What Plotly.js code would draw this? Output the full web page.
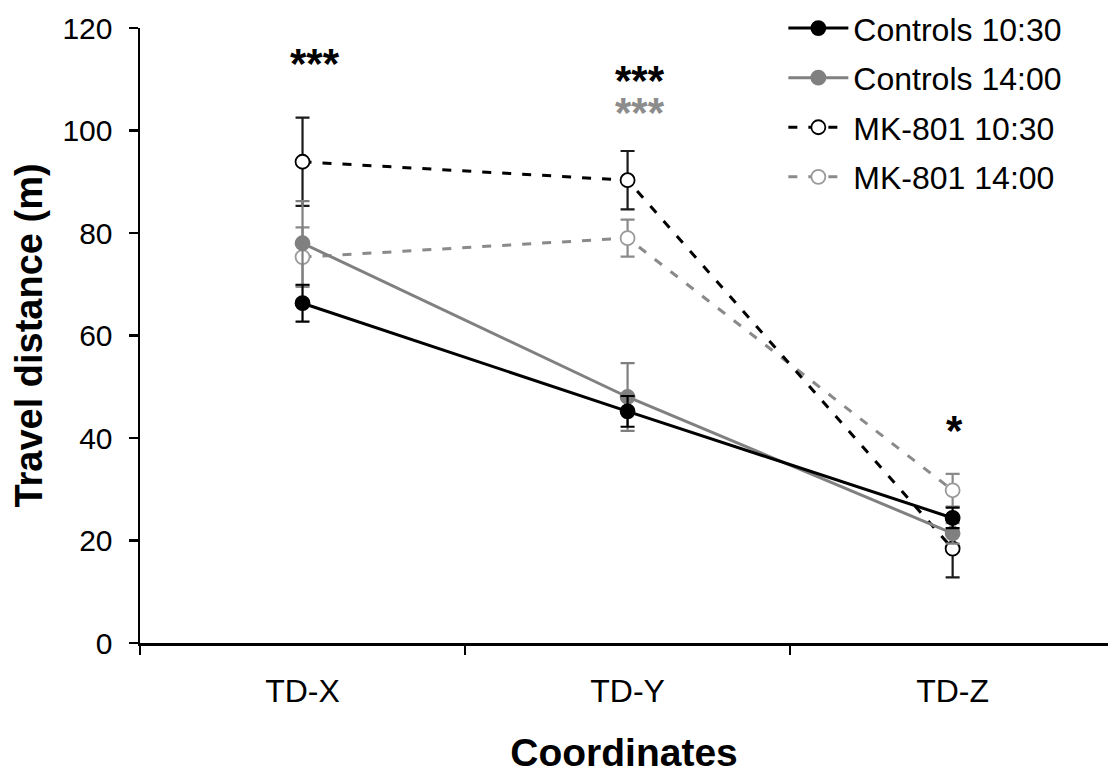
<!DOCTYPE html>
<html>
<head>
<meta charset="utf-8">
<script src="https://cdn.plot.ly/plotly-3.0.1.min.js"></script>
<style>html,body{margin:0;padding:0;background:#fff;}#chart{width:1108px;height:774px;}</style>
</head>
<body>
<div id="chart"></div>
<script>
const categories = ["TD-X", "TD-Y", "TD-Z"];
const seriesNames = ["Controls 10:30", "Controls 14:00", "MK-801 10:30", "MK-801 14:00"];
const controls1030 = [66.3, 45.2, 24.4];
const controls1030Err = [3.6, 3.0, 2.0];
const controls1400 = [78.0, 48.0, 21.4];
const controls1400Err = [8.2, 6.6, 2.0];
const mk1030 = [93.9, 90.3, 18.4];
const mk1030Err = [8.6, 5.7, 5.6];
const mk1400 = [75.3, 79.0, 29.8];
const mk1400Err = [5.8, 3.6, 3.2];
const starLabels = [
  {x: "TD-X", y: 113.1, text: "***", color: "#000000"},
  {x: "TD-Y", y: 109.8, text: "***", color: "#000000"},
  {x: "TD-Y", y: 103.6, text: "***", color: "#8c8c8c"},
  {x: "TD-Z", y: 41.5, text: "*", color: "#000000"}
];

const FONT = "Arial, 'Liberation Sans', sans-serif";

function trace(name, vals, errs, lineColor, dash, markerFill, markerLine, errColor, rank) {
  return {
    type: "scatter", mode: "lines+markers", name: name,
    x: categories, y: vals,
    legendgroup: name, legendrank: rank,
    line: {color: lineColor, width: 3, dash: dash},
    marker: {size: 14, color: markerFill, line: {color: markerLine, width: 1.8}},
    error_y: {type: "data", array: errs, visible: true, color: errColor, thickness: 2.2, width: 7},
    cliponaxis: false
  };
}

const data = [
  trace(seriesNames[3], mk1400, mk1400Err, "#8a8a8a", "9px,11px", "#ffffff", "#9a9a9a", "#8a8a8a", 4),
  trace(seriesNames[2], mk1030, mk1030Err, "#000000", "9px,11px", "#ffffff", "#000000", "#1a1a1a", 3),
  trace(seriesNames[1], controls1400, controls1400Err, "#808080", "solid", "#808080", "#808080", "#808080", 2),
  trace(seriesNames[0], controls1030, controls1030Err, "#000000", "solid", "#000000", "#000000", "#000000", 1)
];

const annotations = starLabels.map(s => ({
  x: s.x, y: s.y, xref: "x", yref: "y", text: "<b>" + s.text + "</b>",
  showarrow: false, font: {family: FONT, size: 42, color: s.color},
  xanchor: "center", yanchor: "middle", xshift: 12
}));
annotations[3].xshift = 2;

const layout = {
  width: 1108, height: 774,
  margin: {l: 140, r: 0, t: 28, b: 131, autoexpand: false},
  paper_bgcolor: "#ffffff", plot_bgcolor: "#ffffff",
  font: {family: FONT, color: "#000000"},
  showlegend: true,
  legend: {
    xref: "container", yref: "container",
    x: 0.707, y: 0.999, xanchor: "left", yanchor: "top",
    font: {family: FONT, size: 32, color: "#000"},
    traceorder: "grouped", tracegroupgap: 5,
    itemwidth: 60, bgcolor: "rgba(0,0,0,0)"
  },
  xaxis: {
    type: "category", range: [-0.5, 2.478], automargin: false,
    tickson: "boundaries", ticks: "outside", ticklen: 9, tickwidth: 2.2, tickcolor: "#000",
    ticklabelstandoff: 18,
    showline: true, linecolor: "#000", linewidth: 2.5,
    showgrid: false, zeroline: false,
    tickfont: {family: FONT, size: 32, color: "#000"},
    title: {text: "<b>Coordinates</b>", font: {family: FONT, size: 39, color: "#000"}, standoff: 34}
  },
  yaxis: {
    range: [0, 120], tickvals: [0, 20, 40, 60, 80, 100, 120], automargin: false,
    ticks: "outside", ticklen: 9, tickwidth: 2.2, tickcolor: "#000",
    ticklabelstandoff: 10,
    showline: true, linecolor: "#000", linewidth: 2.5,
    showgrid: false, zeroline: false,
    tickfont: {family: FONT, size: 30, color: "#000"},
    title: {text: "<b>Travel distance (m)</b>", font: {family: FONT, size: 38, color: "#000"}, standoff: 8}
  },
  annotations: annotations
};

Plotly.newPlot("chart", data, layout, {displayModeBar: false, staticPlot: true});
</script>
</body>
</html>
